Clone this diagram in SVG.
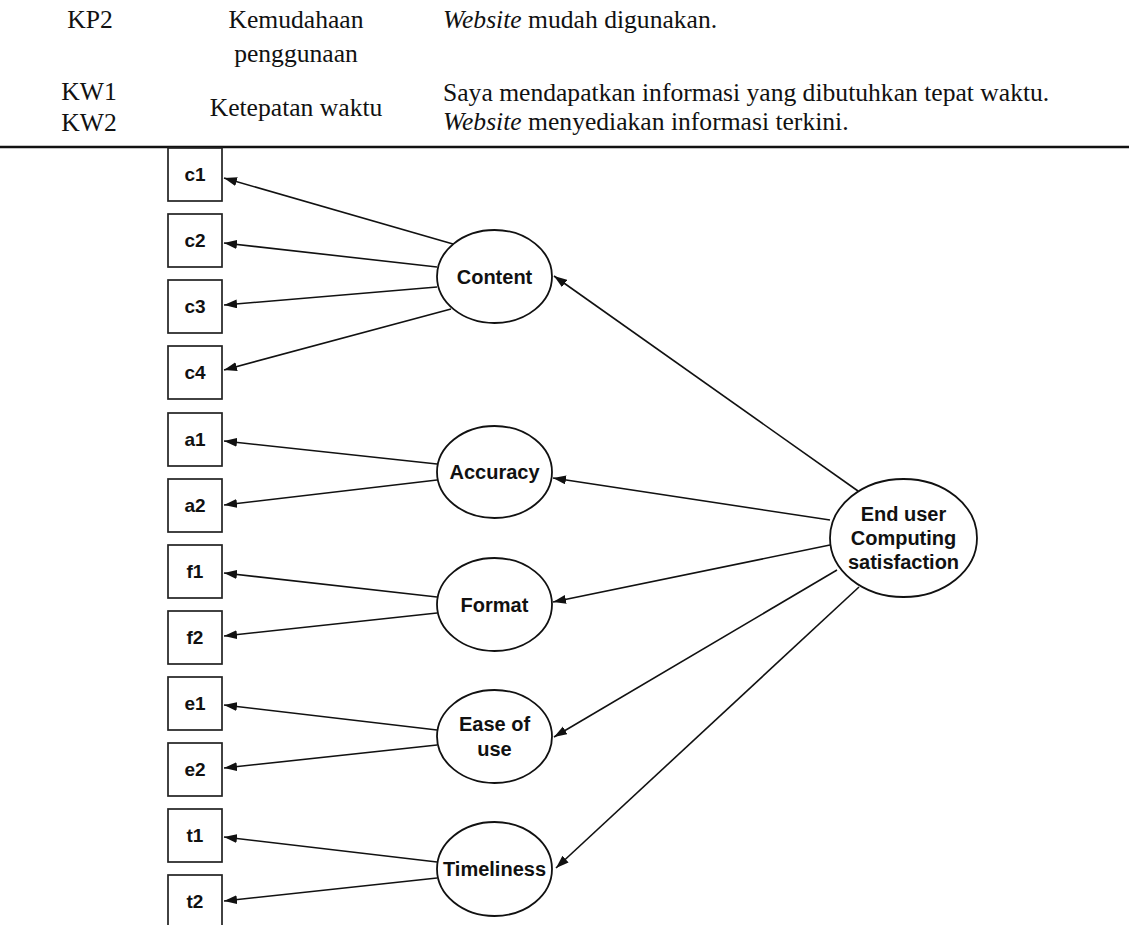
<svg xmlns="http://www.w3.org/2000/svg" width="1129" height="925" viewBox="0 0 1129 925">
<style>
.tbl{font-family:"Liberation Serif","Times New Roman",serif;font-size:25.6px;fill:#111}
.it{font-style:italic}
.box{fill:#fff;stroke:#222;stroke-width:1.7}
.ell{fill:#fff;stroke:#111;stroke-width:1.8}
.lbl{font-family:"Liberation Sans",Arial,sans-serif;font-weight:bold;font-size:19px;fill:#111;text-anchor:middle}
.elbl{font-family:"Liberation Sans",Arial,sans-serif;font-weight:bold;font-size:20px;fill:#111;text-anchor:middle}
.con line{stroke:#111;stroke-width:1.6;marker-end:url(#ah)}
</style>
<defs>
<marker id="ah" markerUnits="userSpaceOnUse" markerWidth="14" markerHeight="10" refX="13" refY="4.5" orient="auto">
<path d="M0,0 L13,4.5 L0,9 z" fill="#111"/>
</marker>
</defs>
<rect width="1129" height="925" fill="#fff"/>
<g id="table">
<text class="tbl" x="90" y="28" text-anchor="middle">KP2</text>
<text class="tbl" x="296" y="28" text-anchor="middle">Kemudahaan</text>
<text class="tbl" x="296" y="62" text-anchor="middle">penggunaan</text>
<text class="tbl" x="443" y="28"><tspan class="it">Website</tspan> mudah digunakan.</text>
<text class="tbl" x="89" y="100" text-anchor="middle">KW1</text>
<text class="tbl" x="89" y="131" text-anchor="middle">KW2</text>
<text class="tbl" x="296" y="116" text-anchor="middle">Ketepatan waktu</text>
<text class="tbl" x="443" y="101">Saya mendapatkan informasi yang dibutuhkan tepat waktu.</text>
<text class="tbl" x="443" y="130"><tspan class="it">Website</tspan> menyediakan informasi terkini.</text>
<line x1="0" y1="147" x2="1129" y2="147" stroke="#111" stroke-width="2.4"/>
</g>
<g class="con" id="connectors">
<line x1="453" y1="244" x2="224" y2="178"/>
<line x1="437" y1="267" x2="224" y2="243"/>
<line x1="437" y1="287" x2="224" y2="305"/>
<line x1="451" y1="309" x2="224" y2="370"/>
<line x1="437" y1="464" x2="224" y2="441"/>
<line x1="437" y1="480" x2="224" y2="505"/>
<line x1="437" y1="597" x2="224" y2="573"/>
<line x1="437" y1="613" x2="224" y2="636"/>
<line x1="437" y1="730" x2="224" y2="705"/>
<line x1="437" y1="745" x2="224" y2="768"/>
<line x1="437" y1="862" x2="224" y2="837"/>
<line x1="437" y1="878" x2="224" y2="901"/>
<line x1="858" y1="491" x2="554" y2="276"/>
<line x1="830" y1="520" x2="553" y2="478"/>
<line x1="830" y1="545" x2="553" y2="602"/>
<line x1="837" y1="570" x2="554" y2="737"/>
<line x1="859" y1="587" x2="556" y2="868"/>
</g>
<g id="c1"><rect class="box" x="168" y="148" width="54" height="53"/><text class="lbl" x="195" y="181">c1</text></g>
<g id="c2"><rect class="box" x="168" y="214" width="54" height="53"/><text class="lbl" x="195" y="247">c2</text></g>
<g id="c3"><rect class="box" x="168" y="280" width="54" height="53"/><text class="lbl" x="195" y="313">c3</text></g>
<g id="c4"><rect class="box" x="168" y="346" width="54" height="53"/><text class="lbl" x="195" y="379">c4</text></g>
<g id="a1"><rect class="box" x="168" y="413" width="54" height="53"/><text class="lbl" x="195" y="446">a1</text></g>
<g id="a2"><rect class="box" x="168" y="479" width="54" height="53"/><text class="lbl" x="195" y="512">a2</text></g>
<g id="f1"><rect class="box" x="168" y="545" width="54" height="53"/><text class="lbl" x="195" y="578">f1</text></g>
<g id="f2"><rect class="box" x="168" y="611" width="54" height="53"/><text class="lbl" x="195" y="644">f2</text></g>
<g id="e1"><rect class="box" x="168" y="677" width="54" height="53"/><text class="lbl" x="195" y="710">e1</text></g>
<g id="e2"><rect class="box" x="168" y="743" width="54" height="53"/><text class="lbl" x="195" y="776">e2</text></g>
<g id="t1"><rect class="box" x="168" y="809" width="54" height="53"/><text class="lbl" x="195" y="842">t1</text></g>
<g id="t2"><rect class="box" x="168" y="875" width="54" height="53"/><text class="lbl" x="195" y="908">t2</text></g>
<g id="content"><ellipse class="ell" cx="494.5" cy="276.5" rx="57.5" ry="46.5"/><text class="elbl" x="494.5" y="284">Content</text></g>
<g id="accuracy"><ellipse class="ell" cx="494.5" cy="472" rx="57.5" ry="46"/><text class="elbl" x="494.5" y="479">Accuracy</text></g>
<g id="format"><ellipse class="ell" cx="494.5" cy="604.5" rx="57.5" ry="46.5"/><text class="elbl" x="494.5" y="612">Format</text></g>
<g id="ease"><ellipse class="ell" cx="494.5" cy="736.5" rx="57.5" ry="46.5"/><text class="elbl" x="494.5" y="731">Ease of</text><text class="elbl" x="494.5" y="756">use</text></g>
<g id="timeliness"><ellipse class="ell" cx="494.5" cy="869" rx="57.5" ry="47"/><text class="elbl" x="494.5" y="876">Timeliness</text></g>
<g id="eucs"><ellipse class="ell" cx="903.5" cy="538" rx="73.5" ry="59"/><text class="elbl" x="903.5" y="521">End user</text><text class="elbl" x="903.5" y="545">Computing</text><text class="elbl" x="903.5" y="569">satisfaction</text></g>
</svg>
